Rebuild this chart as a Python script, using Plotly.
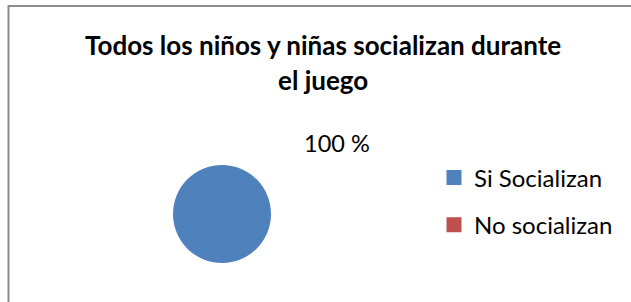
import plotly.graph_objects as go

W, H = 631, 302

title_lines = ["Todos los niños y niñas socializan durante", "el juego"]
categories = ["Si Socializan", "No socializan"]
values = [100, 0]
colors = ["#4F81BD", "#C0504D"]

FONT = "Lato"

def px_x(x):
    return x / W

def px_y(y):
    return 1 - y / H

fig = go.Figure()

# pie centre (222,214) radius 49
cx, cy, r = 222, 214, 49
fig.add_trace(go.Pie(
    labels=categories,
    values=values,
    marker=dict(colors=colors, line=dict(width=0)),
    textinfo="none",
    hoverinfo="label+percent",
    sort=False,
    showlegend=False,
    domain=dict(x=[px_x(cx - r), px_x(cx + r)], y=[px_y(cy + r), px_y(cy - r)]),
))

# legend entries
for i, (cat, col) in enumerate(zip(categories, colors)):
    fig.add_trace(go.Scatter(
        x=[None], y=[None], mode="markers", name=cat,
        marker=dict(symbol="square", size=15, color=col),
        legendgroup=f"g{i}", showlegend=True,
    ))

annotations = []
title_y = [45, 80]
for line, ty in zip(title_lines, title_y):
    annotations.append(dict(
        text=f"<b>{line}</b>", x=px_x(323), y=px_y(ty), xref="paper", yref="paper",
        xanchor="center", yanchor="middle", showarrow=False,
        font=dict(family=FONT, size=26, color="#000000"),
    ))

total = sum(values)
pct = round(values[0] / total * 100)
annotations.append(dict(
    text=f"{pct} %", x=px_x(337), y=px_y(143), xref="paper", yref="paper",
    xanchor="center", yanchor="middle", showarrow=False,
    font=dict(family=FONT, size=23.5, color="#000000"),
))

fig.update_layout(
    width=W, height=H,
    margin=dict(l=0, r=0, t=0, b=0),
    paper_bgcolor="white", plot_bgcolor="white",
    xaxis=dict(visible=False), yaxis=dict(visible=False),
    annotations=annotations,
    legend=dict(
        x=px_x(434), y=px_y(155.5), xanchor="left", yanchor="top",
        font=dict(family=FONT, size=24, color="#000000"),
        tracegroupgap=13, bgcolor="rgba(0,0,0,0)", borderwidth=0,
    ),
    shapes=[dict(
        type="rect", xref="paper", yref="paper",
        x0=px_x(8.5), y0=-0.2, x1=1.2, y1=px_y(6),
        line=dict(color="#8C8C8C", width=2), fillcolor="rgba(0,0,0,0)",
    )],
)

fig.write_html("out.html", config={"displayModeBar": False},
               post_script="document.body.style.margin='0px';")
